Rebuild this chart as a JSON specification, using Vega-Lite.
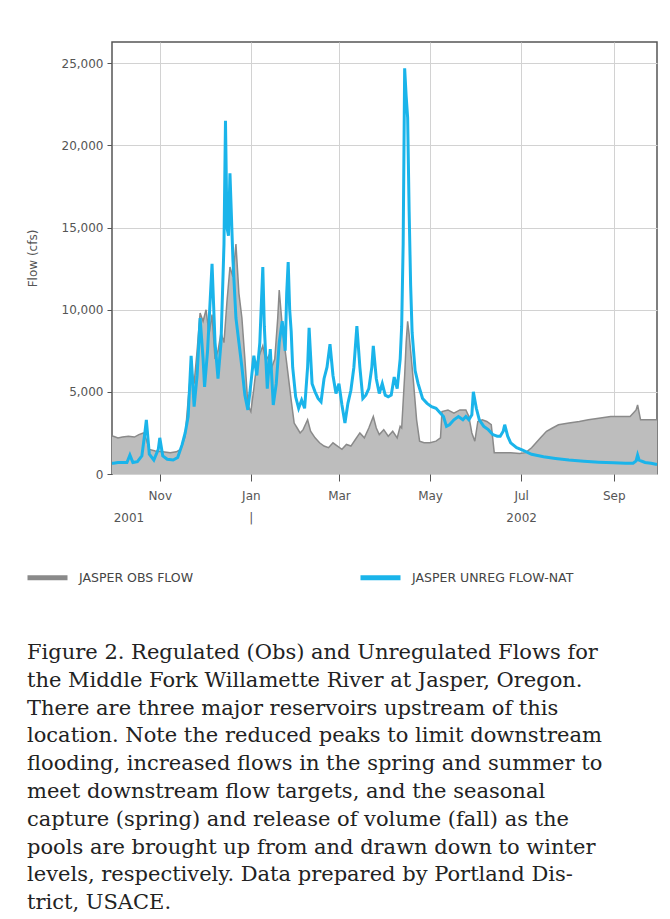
{
  "$schema": "https://vega.github.io/schema/vega-lite/v6.json",
  "width": 545,
  "height": 432,
  "autosize": {"type": "none"},
  "padding": {"left": 112, "top": 42, "right": 13, "bottom": 445},
  "background": "white",
  "config": {
    "font": "DejaVu Sans",
    "view": {"stroke": "#555555", "strokeWidth": 1.5},
    "axis": {"labelFont": "DejaVu Sans", "labelFontSize": 12, "labelColor": "#555555", "tickColor": "#555555", "gridColor": "#d2d2d2", "gridWidth": 1, "domain": false}
  },
  "title": {
    "text": [
      "Figure 2. Regulated (Obs) and Unregulated Flows for",
      "the Middle Fork Willamette River at Jasper, Oregon.",
      "There are three major reservoirs upstream of this",
      "location. Note the reduced peaks to limit downstream",
      "flooding, increased flows in the spring and summer to",
      "meet downstream flow targets, and the seasonal",
      "capture (spring) and release of volume (fall) as the",
      "pools are brought up from and drawn down to winter",
      "levels, respectively. Data prepared by Portland Dis-",
      "trict, USACE."
    ],
    "orient": "bottom",
    "anchor": "start",
    "frame": "group",
    "dx": -85,
    "offset": 54,
    "font": "DejaVu Serif",
    "fontSize": 21,
    "fontWeight": "normal",
    "lineHeight": 27.8,
    "color": "#222222"
  },
  "datasets": {
    "obs": [
      {"d": "2001-09-30", "v": 2300}, {"d": "2001-10-01", "v": 2300}, {"d": "2001-10-04", "v": 2200}, {"d": "2001-10-07", "v": 2250},
      {"d": "2001-10-11", "v": 2300}, {"d": "2001-10-15", "v": 2250}, {"d": "2001-10-18", "v": 2400}, {"d": "2001-10-21", "v": 2500},
      {"d": "2001-10-23", "v": 2100}, {"d": "2001-10-25", "v": 1500}, {"d": "2001-10-29", "v": 1400}, {"d": "2001-11-03", "v": 1350},
      {"d": "2001-11-08", "v": 1300}, {"d": "2001-11-12", "v": 1350}, {"d": "2001-11-15", "v": 1500}, {"d": "2001-11-18", "v": 2300},
      {"d": "2001-11-20", "v": 4500}, {"d": "2001-11-22", "v": 6500}, {"d": "2001-11-24", "v": 5500}, {"d": "2001-11-26", "v": 7500},
      {"d": "2001-11-28", "v": 9800}, {"d": "2001-11-30", "v": 9300}, {"d": "2001-12-02", "v": 10000}, {"d": "2001-12-04", "v": 8500},
      {"d": "2001-12-06", "v": 9700}, {"d": "2001-12-08", "v": 7000}, {"d": "2001-12-10", "v": 7500}, {"d": "2001-12-12", "v": 8600},
      {"d": "2001-12-14", "v": 8000}, {"d": "2001-12-16", "v": 10500}, {"d": "2001-12-18", "v": 12600}, {"d": "2001-12-20", "v": 12000},
      {"d": "2001-12-22", "v": 14000}, {"d": "2001-12-24", "v": 11000}, {"d": "2001-12-26", "v": 9500}, {"d": "2001-12-28", "v": 7000},
      {"d": "2001-12-30", "v": 4200}, {"d": "2002-01-01", "v": 3800}, {"d": "2002-01-03", "v": 5200}, {"d": "2002-01-05", "v": 6800},
      {"d": "2002-01-07", "v": 7300}, {"d": "2002-01-09", "v": 7800}, {"d": "2002-01-11", "v": 6900}, {"d": "2002-01-13", "v": 7200},
      {"d": "2002-01-15", "v": 6500}, {"d": "2002-01-17", "v": 7000}, {"d": "2002-01-19", "v": 9500}, {"d": "2002-01-20", "v": 11200},
      {"d": "2002-01-22", "v": 9000}, {"d": "2002-01-24", "v": 7500}, {"d": "2002-01-26", "v": 6000}, {"d": "2002-01-28", "v": 4500},
      {"d": "2002-01-30", "v": 3100}, {"d": "2002-02-01", "v": 2800}, {"d": "2002-02-03", "v": 2500}, {"d": "2002-02-05", "v": 2700},
      {"d": "2002-02-08", "v": 3300}, {"d": "2002-02-10", "v": 2600}, {"d": "2002-02-13", "v": 2200}, {"d": "2002-02-16", "v": 1900},
      {"d": "2002-02-19", "v": 1700}, {"d": "2002-02-22", "v": 1600}, {"d": "2002-02-25", "v": 1900}, {"d": "2002-02-28", "v": 1700},
      {"d": "2002-03-03", "v": 1500}, {"d": "2002-03-06", "v": 1800}, {"d": "2002-03-09", "v": 1700}, {"d": "2002-03-12", "v": 2100},
      {"d": "2002-03-15", "v": 2500}, {"d": "2002-03-18", "v": 2200}, {"d": "2002-03-21", "v": 2800}, {"d": "2002-03-24", "v": 3500},
      {"d": "2002-03-26", "v": 2800}, {"d": "2002-03-28", "v": 2400}, {"d": "2002-03-31", "v": 2700}, {"d": "2002-04-03", "v": 2300},
      {"d": "2002-04-06", "v": 2600}, {"d": "2002-04-09", "v": 2200}, {"d": "2002-04-11", "v": 2900}, {"d": "2002-04-12", "v": 2800},
      {"d": "2002-04-14", "v": 6000}, {"d": "2002-04-15", "v": 8000}, {"d": "2002-04-16", "v": 9300}, {"d": "2002-04-17", "v": 8500},
      {"d": "2002-04-18", "v": 7500}, {"d": "2002-04-20", "v": 5500}, {"d": "2002-04-22", "v": 3300}, {"d": "2002-04-24", "v": 2000},
      {"d": "2002-04-27", "v": 1900}, {"d": "2002-05-01", "v": 1900}, {"d": "2002-05-05", "v": 2000}, {"d": "2002-05-08", "v": 2200},
      {"d": "2002-05-09", "v": 3800}, {"d": "2002-05-13", "v": 3900}, {"d": "2002-05-17", "v": 3700}, {"d": "2002-05-21", "v": 3900},
      {"d": "2002-05-25", "v": 3900}, {"d": "2002-05-27", "v": 3500}, {"d": "2002-05-29", "v": 2500}, {"d": "2002-05-31", "v": 2000},
      {"d": "2002-06-02", "v": 3200}, {"d": "2002-06-05", "v": 3300}, {"d": "2002-06-08", "v": 3200}, {"d": "2002-06-11", "v": 3000},
      {"d": "2002-06-13", "v": 1300}, {"d": "2002-06-18", "v": 1300}, {"d": "2002-06-24", "v": 1300}, {"d": "2002-06-30", "v": 1250},
      {"d": "2002-07-04", "v": 1300}, {"d": "2002-07-08", "v": 1600}, {"d": "2002-07-11", "v": 1900}, {"d": "2002-07-14", "v": 2200},
      {"d": "2002-07-18", "v": 2600}, {"d": "2002-07-22", "v": 2800}, {"d": "2002-07-26", "v": 3000}, {"d": "2002-08-02", "v": 3100},
      {"d": "2002-08-09", "v": 3200}, {"d": "2002-08-15", "v": 3300}, {"d": "2002-08-22", "v": 3400}, {"d": "2002-08-30", "v": 3500},
      {"d": "2002-09-06", "v": 3500}, {"d": "2002-09-12", "v": 3500}, {"d": "2002-09-16", "v": 3900}, {"d": "2002-09-17", "v": 4200},
      {"d": "2002-09-19", "v": 3300}, {"d": "2002-09-24", "v": 3300}, {"d": "2002-09-30", "v": 3300}
    ],
    "nat": [
      {"d": "2001-09-30", "v": 650}, {"d": "2001-10-01", "v": 650}, {"d": "2001-10-04", "v": 700}, {"d": "2001-10-07", "v": 700},
      {"d": "2001-10-10", "v": 700}, {"d": "2001-10-12", "v": 1150}, {"d": "2001-10-14", "v": 700}, {"d": "2001-10-17", "v": 750},
      {"d": "2001-10-20", "v": 1100}, {"d": "2001-10-22", "v": 2500}, {"d": "2001-10-23", "v": 3300}, {"d": "2001-10-25", "v": 1200},
      {"d": "2001-10-28", "v": 850}, {"d": "2001-10-31", "v": 1500}, {"d": "2001-11-01", "v": 2200}, {"d": "2001-11-03", "v": 1100},
      {"d": "2001-11-06", "v": 900}, {"d": "2001-11-10", "v": 850}, {"d": "2001-11-13", "v": 1000}, {"d": "2001-11-16", "v": 1800},
      {"d": "2001-11-18", "v": 2500}, {"d": "2001-11-20", "v": 3500}, {"d": "2001-11-22", "v": 7200}, {"d": "2001-11-24", "v": 4100},
      {"d": "2001-11-26", "v": 6000}, {"d": "2001-11-28", "v": 9500}, {"d": "2001-11-30", "v": 7000}, {"d": "2001-12-01", "v": 5300},
      {"d": "2001-12-03", "v": 7500}, {"d": "2001-12-06", "v": 12800}, {"d": "2001-12-08", "v": 8000}, {"d": "2001-12-10", "v": 5800},
      {"d": "2001-12-12", "v": 8000}, {"d": "2001-12-14", "v": 14000}, {"d": "2001-12-15", "v": 21500}, {"d": "2001-12-16", "v": 15000},
      {"d": "2001-12-17", "v": 14500}, {"d": "2001-12-18", "v": 18300}, {"d": "2001-12-20", "v": 13000}, {"d": "2001-12-22", "v": 9500},
      {"d": "2001-12-24", "v": 8000}, {"d": "2001-12-26", "v": 6500}, {"d": "2001-12-28", "v": 4800}, {"d": "2001-12-30", "v": 3900},
      {"d": "2002-01-01", "v": 5500}, {"d": "2002-01-03", "v": 7200}, {"d": "2002-01-05", "v": 6000}, {"d": "2002-01-07", "v": 8000},
      {"d": "2002-01-09", "v": 12600}, {"d": "2002-01-10", "v": 9000}, {"d": "2002-01-12", "v": 5200}, {"d": "2002-01-14", "v": 7600},
      {"d": "2002-01-16", "v": 4200}, {"d": "2002-01-18", "v": 5500}, {"d": "2002-01-20", "v": 8000}, {"d": "2002-01-22", "v": 9300},
      {"d": "2002-01-24", "v": 7500}, {"d": "2002-01-25", "v": 11000}, {"d": "2002-01-26", "v": 12900}, {"d": "2002-01-27", "v": 10000},
      {"d": "2002-01-28", "v": 8700}, {"d": "2002-01-29", "v": 6500}, {"d": "2002-01-31", "v": 4700}, {"d": "2002-02-02", "v": 4000},
      {"d": "2002-02-04", "v": 4500}, {"d": "2002-02-06", "v": 4000}, {"d": "2002-02-08", "v": 6500}, {"d": "2002-02-09", "v": 8900},
      {"d": "2002-02-11", "v": 5500}, {"d": "2002-02-13", "v": 5000}, {"d": "2002-02-15", "v": 4600}, {"d": "2002-02-17", "v": 4400},
      {"d": "2002-02-19", "v": 5800}, {"d": "2002-02-21", "v": 6500}, {"d": "2002-02-23", "v": 7900}, {"d": "2002-02-25", "v": 6000},
      {"d": "2002-02-27", "v": 4900}, {"d": "2002-03-01", "v": 5500}, {"d": "2002-03-03", "v": 4200}, {"d": "2002-03-05", "v": 3100},
      {"d": "2002-03-07", "v": 4300}, {"d": "2002-03-09", "v": 5100}, {"d": "2002-03-11", "v": 6500}, {"d": "2002-03-13", "v": 9000},
      {"d": "2002-03-15", "v": 6500}, {"d": "2002-03-17", "v": 4600}, {"d": "2002-03-19", "v": 4800}, {"d": "2002-03-21", "v": 5200},
      {"d": "2002-03-23", "v": 6500}, {"d": "2002-03-24", "v": 7800}, {"d": "2002-03-26", "v": 5800}, {"d": "2002-03-28", "v": 4900},
      {"d": "2002-03-30", "v": 5500}, {"d": "2002-04-01", "v": 4800}, {"d": "2002-04-03", "v": 4700}, {"d": "2002-04-05", "v": 4800},
      {"d": "2002-04-07", "v": 5900}, {"d": "2002-04-09", "v": 5200}, {"d": "2002-04-11", "v": 7000}, {"d": "2002-04-12", "v": 9000},
      {"d": "2002-04-13", "v": 14000}, {"d": "2002-04-14", "v": 24700}, {"d": "2002-04-15", "v": 23000}, {"d": "2002-04-16", "v": 21700},
      {"d": "2002-04-17", "v": 16000}, {"d": "2002-04-18", "v": 11500}, {"d": "2002-04-19", "v": 8600}, {"d": "2002-04-21", "v": 6300},
      {"d": "2002-04-23", "v": 5500}, {"d": "2002-04-26", "v": 4600}, {"d": "2002-04-29", "v": 4300}, {"d": "2002-05-02", "v": 4100},
      {"d": "2002-05-05", "v": 4000}, {"d": "2002-05-08", "v": 3700}, {"d": "2002-05-10", "v": 3500}, {"d": "2002-05-12", "v": 2900},
      {"d": "2002-05-14", "v": 3000}, {"d": "2002-05-17", "v": 3300}, {"d": "2002-05-20", "v": 3500}, {"d": "2002-05-23", "v": 3300},
      {"d": "2002-05-25", "v": 3500}, {"d": "2002-05-27", "v": 3300}, {"d": "2002-05-29", "v": 3600}, {"d": "2002-05-30", "v": 5000},
      {"d": "2002-06-01", "v": 4000}, {"d": "2002-06-03", "v": 3300}, {"d": "2002-06-06", "v": 2900}, {"d": "2002-06-09", "v": 2700},
      {"d": "2002-06-12", "v": 2400}, {"d": "2002-06-15", "v": 2300}, {"d": "2002-06-17", "v": 2300}, {"d": "2002-06-19", "v": 2600},
      {"d": "2002-06-20", "v": 3000}, {"d": "2002-06-22", "v": 2300}, {"d": "2002-06-24", "v": 1900}, {"d": "2002-06-28", "v": 1600},
      {"d": "2002-07-02", "v": 1450}, {"d": "2002-07-08", "v": 1200}, {"d": "2002-07-16", "v": 1050}, {"d": "2002-07-24", "v": 950},
      {"d": "2002-08-02", "v": 850}, {"d": "2002-08-12", "v": 780}, {"d": "2002-08-22", "v": 720}, {"d": "2002-09-01", "v": 680},
      {"d": "2002-09-09", "v": 650}, {"d": "2002-09-14", "v": 660}, {"d": "2002-09-16", "v": 800}, {"d": "2002-09-17", "v": 1150},
      {"d": "2002-09-18", "v": 850}, {"d": "2002-09-22", "v": 700}, {"d": "2002-09-26", "v": 650}, {"d": "2002-09-30", "v": 580}
    ]
  },
  "layer": [
    {
      "data": {"name": "obs"},
      "mark": {"type": "area", "color": "#bdbdbd"},
      "encoding": {
        "x": {
          "field": "d", "type": "temporal",
          "scale": {"type": "utc", "domain": [{"year": 2001, "month": 9, "date": 30, "utc": true}, {"year": 2002, "month": 9, "date": 30, "utc": true}]},
          "axis": {
            "title": null, "orient": "bottom", "format": "%b", "tickSize": 7, "labelPadding": 9, "grid": true,
            "values": [
              {"year": 2001, "month": 11, "date": 1, "utc": true}, {"year": 2002, "month": 1, "date": 1, "utc": true},
              {"year": 2002, "month": 3, "date": 1, "utc": true}, {"year": 2002, "month": 5, "date": 1, "utc": true},
              {"year": 2002, "month": 7, "date": 1, "utc": true}, {"year": 2002, "month": 9, "date": 1, "utc": true}
            ]
          }
        },
        "y": {
          "field": "v", "type": "quantitative",
          "scale": {"domain": [0, 26300], "nice": false},
          "axis": {"title": "Flow (cfs)", "values": [0, 5000, 10000, 15000, 20000, 25000], "format": ",d", "tickSize": 5, "labelPadding": 4, "grid": true,
                   "titleFont": "DejaVu Sans", "titleFontSize": 12, "titleFontWeight": "normal", "titleColor": "#555555", "titlePadding": 22}
        }
      }
    },
    {
      "data": {"name": "obs"},
      "mark": {"type": "line", "strokeWidth": 1.5},
      "encoding": {
        "x": {"field": "d", "type": "temporal", "axis": null},
        "y": {"field": "v", "type": "quantitative"},
        "color": {
          "datum": "JASPER OBS FLOW",
          "scale": {"domain": ["JASPER OBS FLOW", "JASPER UNREG FLOW-NAT"], "range": ["#8a8a8a", "#1ab4ea"]},
          "legend": {
            "title": null, "orient": "none", "legendX": -87, "legendY": 513, "direction": "horizontal",
            "symbolType": "stroke", "symbolSize": 1600, "symbolStrokeWidth": 5, "labelFont": "DejaVu Sans", "labelFontSize": 12.5,
            "labelColor": "#444444", "labelOffset": 9, "labelLimit": 400, "columnPadding": 156
          }
        }
      }
    },
    {
      "data": {"name": "nat"},
      "mark": {"type": "line", "strokeWidth": 3},
      "encoding": {
        "x": {
          "field": "d", "type": "temporal",
          "axis": {
            "title": null, "orient": "bottom", "offset": 36, "tickSize": 0, "labelPadding": 2, "grid": false,
            "values": [{"year": 2001, "month": 10, "date": 11, "utc": true}, {"year": 2002, "month": 1, "date": 1, "utc": true}, {"year": 2002, "month": 7, "date": 1, "utc": true}],
            "labelExpr": "utcmonth(datum.value) == 0 ? '|' : utcFormat(datum.value, '%Y')"
          }
        },
        "y": {"field": "v", "type": "quantitative"},
        "color": {"datum": "JASPER UNREG FLOW-NAT"}
      }
    }
  ],
  "resolve": {"axis": {"x": "independent"}}
}
